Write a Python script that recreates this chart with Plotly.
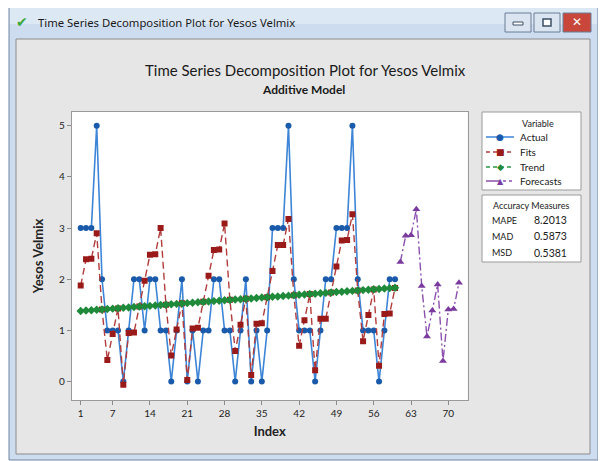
import plotly.graph_objects as go

W, H = 606, 461
# the page body has an 8px margin; positions below are in screen pixels
OX, OY = 8, 8

# ---------------- data ----------------
index_fit = list(range(1, 61))
index_fc = list(range(61, 73))

actual = [3, 3, 3, 5, 2, 1, 1, 1, 0, 1, 2, 2,
          1, 2, 2, 1, 1, 0, 1, 2, 0, 1, 0, 1,
          1, 2, 2, 1, 1, 0, 1, 2, 0, 1, 0, 1,
          3, 3, 3, 5, 2, 1, 1, 1, 0, 1, 2, 2,
          3, 3, 3, 5, 2, 1, 1, 1, 0, 1, 2, 2]

fits = [1.88, 2.39, 2.40, 2.90, 1.41, 0.42, 0.93, 1.43, -0.06, 0.95, 0.96, 1.47,
        1.97, 2.48, 2.49, 3.00, 1.50, 0.51, 1.02, 1.53, 0.03, 1.04, 1.05, 1.56,
        2.07, 2.57, 2.58, 3.09, 1.60, 0.60, 1.11, 1.62, 0.13, 1.13, 1.14, 1.65,
        2.16, 2.67, 2.67, 3.18, 1.69, 0.70, 1.20, 1.71, 0.22, 1.23, 1.23, 1.74,
        2.25, 2.76, 2.77, 3.27, 1.78, 0.79, 1.30, 1.80, 0.31, 1.32, 1.33, 1.83]

trend = [1.380, 1.388, 1.395, 1.403, 1.411, 1.419, 1.426, 1.434, 1.442, 1.449,
         1.457, 1.465, 1.472, 1.480, 1.488, 1.496, 1.503, 1.511, 1.519, 1.526,
         1.534, 1.542, 1.549, 1.557, 1.565, 1.573, 1.580, 1.588, 1.596, 1.603,
         1.611, 1.619, 1.626, 1.634, 1.642, 1.650, 1.657, 1.665, 1.673, 1.680,
         1.688, 1.696, 1.703, 1.711, 1.719, 1.727, 1.734, 1.742, 1.750, 1.757,
         1.765, 1.773, 1.780, 1.788, 1.796, 1.804, 1.811, 1.819, 1.827, 1.834]

forecasts = [2.34, 2.85, 2.86, 3.37, 1.87, 0.88, 1.39, 1.90, 0.40, 1.41, 1.42, 1.93]

x_ticks = [1, 7, 14, 21, 28, 35, 42, 49, 56, 63, 70]
y_ticks = [0, 1, 2, 3, 4, 5]

series_names = ["Actual", "Fits", "Trend", "Forecasts"]
accuracy_labels = ["MAPE", "MAD", "MSD"]
accuracy_values = ["8.2013", "0.5873", "0.5381"]

window_title = "Time Series Decomposition Plot for Yesos Velmix"
chart_title = "Time Series Decomposition Plot for Yesos Velmix"
chart_subtitle = "Additive Model"

# styles
C_ACT_L, C_ACT_M = "#3d85d6", "#1a5aab"
C_FIT_L, C_FIT_M = "#b23b3b", "#9a1a1a"
C_TRD_L, C_TRD_M = "#2a9a45", "#1f8a3a"
C_FC_L, C_FC_M = "#8b4fae", "#7a3a9e"
DASH_FIT = "7px,4px"
DASH_TRD = "5px,4px"
DASH_FC = "8px,3px,2px,3px"


def fx(x):
    return (x - OX) / W


def fy(y):
    return 1 - (y - OY) / H


# ---------------- traces ----------------
fig = go.Figure()
fig.add_trace(go.Scatter(
    x=index_fit, y=actual, name="Actual", mode="lines+markers",
    line=dict(color=C_ACT_L, width=1.6),
    marker=dict(symbol="circle", size=6, color=C_ACT_M)))
fig.add_trace(go.Scatter(
    x=index_fit, y=fits, name="Fits", mode="lines+markers",
    line=dict(color=C_FIT_L, width=1.4, dash=DASH_FIT),
    marker=dict(symbol="square", size=6, color=C_FIT_M)))
fig.add_trace(go.Scatter(
    x=index_fit, y=trend, name="Trend", mode="lines+markers",
    line=dict(color=C_TRD_L, width=1.4, dash=DASH_TRD),
    marker=dict(symbol="diamond", size=6.5, color=C_TRD_M)))
fig.add_trace(go.Scatter(
    x=index_fc, y=forecasts, name="Forecasts", mode="lines+markers",
    line=dict(color=C_FC_L, width=1.4, dash=DASH_FC),
    marker=dict(symbol="triangle-up", size=7, color=C_FC_M)))

# ---------------- chrome shapes ----------------
shapes = []
shapes.append(dict(type="rect", xref="paper", yref="paper",
                   x0=fx(9), x1=fx(598), y0=fy(460), y1=fy(7),
                   fillcolor="#cddcee", line=dict(color="#6f86a3", width=1), layer="below"))
shapes.append(dict(type="rect", xref="paper", yref="paper",
                   x0=fx(10), x1=fx(597), y0=fy(24), y1=fy(8),
                   fillcolor="#dde8f5", line=dict(width=0), layer="below"))
shapes.append(dict(type="rect", xref="paper", yref="paper",
                   x0=fx(16), x1=fx(590), y0=fy(454), y1=fy(39),
                   fillcolor="#e6e6e6", line=dict(color="#8c8c8c", width=1), layer="below"))
shapes.append(dict(type="rect", xref="paper", yref="paper",
                   x0=fx(71.7), x1=fx(467.7), y0=fy(400), y1=fy(112),
                   fillcolor="white", line=dict(width=0), layer="below"))
# legend box
shapes.append(dict(type="rect", xref="paper", yref="paper",
                   x0=fx(482), x1=fx(581), y0=fy(190), y1=fy(112),
                   fillcolor="white", line=dict(color="#9a9a9a", width=1), layer="below"))
# accuracy box
shapes.append(dict(type="rect", xref="paper", yref="paper",
                   x0=fx(482), x1=fx(581), y0=fy(262), y1=fy(195),
                   fillcolor="white", line=dict(color="#9a9a9a", width=1), layer="below"))
# window buttons
for (bx0, bx1, col) in [(505, 531, "#dbe5f1"), (534, 560, "#dbe5f1"), (563, 591, "#c8463a")]:
    shapes.append(dict(type="rect", xref="paper", yref="paper",
                       x0=fx(bx0), x1=fx(bx1), y0=fy(32), y1=fy(13),
                       fillcolor=col, line=dict(color="#6a7d96", width=1), layer="below"))
shapes.append(dict(type="rect", xref="paper", yref="paper",
                   x0=fx(513), x1=fx(523), y0=fy(25), y1=fy(22),
                   fillcolor="#ffffff", line=dict(color="#3c4e66", width=1), layer="below"))
shapes.append(dict(type="rect", xref="paper", yref="paper",
                   x0=fx(543), x1=fx(551), y0=fy(26), y1=fy(19),
                   fillcolor="#ffffff", line=dict(color="#3c4e66", width=1.5), layer="below"))

# legend key lines
legend_rows = [137, 152, 167, 181]
legend_styles = [(C_ACT_L, "solid", C_ACT_M, "●", 9),
                 (C_FIT_L, "4px,3px", C_FIT_M, "■", 9),
                 (C_TRD_L, "4px,3px", C_TRD_M, "◆", 9),
                 (C_FC_L, "mixed", C_FC_M, "▲", 8)]
for yy, (lc, dash, mc, glyph, gs) in zip(legend_rows, legend_styles):
    if dash == "mixed":
        shapes.append(dict(type="line", xref="paper", yref="paper",
                           x0=fx(486), x1=fx(500), y0=fy(yy), y1=fy(yy),
                           line=dict(color=lc, width=1.5), layer="above"))
        shapes.append(dict(type="line", xref="paper", yref="paper",
                           x0=fx(503), x1=fx(514), y0=fy(yy), y1=fy(yy),
                           line=dict(color=lc, width=1.5, dash="3px,3px"), layer="above"))
    else:
        shapes.append(dict(type="line", xref="paper", yref="paper",
                           x0=fx(486), x1=fx(514), y0=fy(yy), y1=fy(yy),
                           line=dict(color=lc, width=1.5, dash=dash), layer="above"))

# ---------------- annotations ----------------
ann = []
ann.append(dict(text="✔", x=fx(22), y=fy(22), xref="paper", yref="paper",
                showarrow=False, font=dict(size=14, color="#3aa83a", family="DejaVu Sans"),
                xanchor="center", yanchor="middle"))
ann.append(dict(text=window_title, x=fx(36), y=fy(22), xref="paper", yref="paper",
                showarrow=False, font=dict(size=11.3, color="#1a1a1a", family="Noto Sans"),
                xanchor="left", yanchor="middle"))
ann.append(dict(text="✕", x=fx(577), y=fy(22.5), xref="paper", yref="paper",
                showarrow=False, font=dict(size=12, color="#ffffff", family="DejaVu Sans"),
                xanchor="center", yanchor="middle"))
ann.append(dict(text=chart_title, x=fx(305), y=fy(70), xref="paper", yref="paper",
                showarrow=False, font=dict(size=15, color="#1a1a1a", family="Lato"),
                xanchor="center", yanchor="middle"))
ann.append(dict(text="<b>" + chart_subtitle + "</b>", x=fx(303), y=fy(90), xref="paper", yref="paper",
                showarrow=False, font=dict(size=12, color="#1a1a1a", family="Lato"),
                xanchor="center", yanchor="middle"))
ann.append(dict(text="Variable", x=fx(538), y=fy(123), xref="paper", yref="paper",
                showarrow=False, font=dict(size=9, color="#1a1a1a", family="Lato"),
                xanchor="center", yanchor="middle"))
for yy, name, (lc, dash, mc, glyph, gs) in zip(legend_rows, series_names, legend_styles):
    ann.append(dict(text=glyph, x=fx(500), y=fy(yy), xref="paper", yref="paper",
                    showarrow=False, font=dict(size=gs, color=mc, family="DejaVu Sans"),
                    xanchor="center", yanchor="middle"))
    ann.append(dict(text=name, x=fx(518), y=fy(yy), xref="paper", yref="paper",
                    showarrow=False, font=dict(size=10, color="#1a1a1a", family="Lato"),
                    xanchor="left", yanchor="middle"))
ann.append(dict(text="Accuracy Measures", x=fx(531), y=fy(206), xref="paper", yref="paper",
                showarrow=False, font=dict(size=9, color="#1a1a1a", family="Lato"),
                xanchor="center", yanchor="middle"))
for yy, lab, val in zip([220, 236, 252.5], accuracy_labels, accuracy_values):
    ann.append(dict(text=lab, x=fx(490), y=fy(yy), xref="paper", yref="paper",
                    showarrow=False, font=dict(size=9, color="#1a1a1a", family="Lato"),
                    xanchor="left", yanchor="middle"))
    ann.append(dict(text=val, x=fx(532), y=fy(yy), xref="paper", yref="paper",
                    showarrow=False, font=dict(size=10.5, color="#1a1a1a", family="Lato"),
                    xanchor="left", yanchor="middle"))

fig.update_layout(
    width=W, height=H,
    margin=dict(l=0, r=0, t=0, b=0),
    paper_bgcolor="white", plot_bgcolor="white",
    shapes=shapes, annotations=ann,
    font=dict(family="Lato", color="#1a1a1a"),
    showlegend=False,
    xaxis=dict(domain=[fx(71.7), fx(467.7)], range=[-0.69, 73.64],
               tickmode="array", tickvals=x_ticks, ticks="outside", ticklen=4,
               tickcolor="#8a8a8a", showline=True, mirror=True, linecolor="#9a9a9a",
               showgrid=False, zeroline=False, automargin=False,
               tickfont=dict(size=10, color="#222"),
               title=dict(text="<b>Index</b>", font=dict(size=13, color="#222"), standoff=8)),
    yaxis=dict(domain=[fy(400), fy(112)], range=[-0.36, 5.27],
               tickmode="array", tickvals=y_ticks, ticks="outside", ticklen=4,
               tickcolor="#8a8a8a", showline=True, mirror=True, linecolor="#9a9a9a",
               showgrid=False, zeroline=False, automargin=False,
               tickfont=dict(size=10, color="#222"),
               title=dict(text="<b>Yesos Velmix</b>", font=dict(size=13, color="#222"), standoff=12)),
)

fig.write_html("out.html")
